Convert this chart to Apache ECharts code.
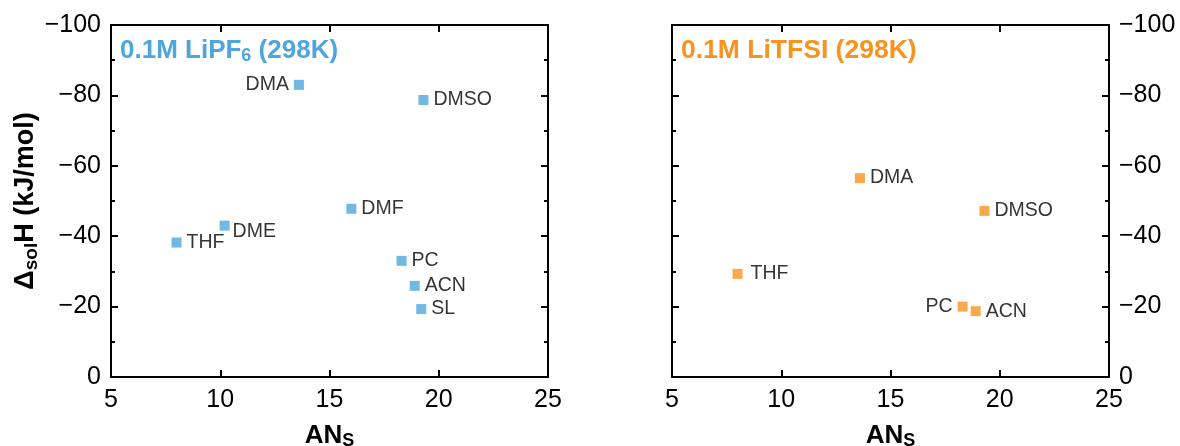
<!DOCTYPE html>
<html>
<head>
<meta charset="utf-8">
<script src="https://cdn.jsdelivr.net/npm/echarts@6/dist/echarts.min.js"></script>
<style>
html,body{margin:0;padding:0;background:#fff;}
#chart{width:1180px;height:446px;}
</style>
</head>
<body>
<div id="chart"></div>
<script>
// ---- data ----
const lipf6Names = ['DMA', 'DMSO', 'DMF', 'DME', 'THF', 'PC', 'ACN', 'SL'];
const lipf6AN    = [13.6, 19.3, 16.0, 10.2, 8.0, 18.3, 18.9, 19.2];
const lipf6H     = [-83.0, -78.7, -47.8, -43.0, -38.2, -33.0, -25.9, -19.3];

const litfsiNames = ['DMA', 'DMSO', 'THF', 'PC', 'ACN'];
const litfsiAN    = [13.6, 19.3, 8.0, 18.3, 18.9];
const litfsiH     = [-56.5, -47.2, -29.3, -20.0, -18.7];

const xTicks = [5, 10, 15, 20, 25];
const yTicks = [-100, -80, -60, -40, -20, 0];

// ---- style ----
const BLUE = '#4ea6dd';
const ORANGE = '#f7931e';
const FONT = '"Liberation Sans", Arial, Helvetica, sans-serif';
const lipf6LabelStyle = { DMA: { position: 'left' }, DME: { offset: [-2, 6] } };
const litfsiLabelStyle = { PC: { position: 'left' }, THF: { distance: 8 } };

const minus = v => (v < 0 ? '\u2212' + Math.abs(v) : String(v));

function buildData(names, xs, ys, styles) {
  return names.map((n, i) => {
    const s = styles[n] || {};
    const item = { value: [xs[i], ys[i]], name: n };
    item.label = Object.assign({}, s);
    return item;
  });
}

const GRID_TOP = 25, GRID_H = 352, GRID_W = 437;
const axisLine = { show: true, onZero: false, lineStyle: { color: '#000', width: 2 } };

function xAxes(gi) {
  return [
    {
      gridIndex: gi, type: 'value', min: xTicks[0], max: xTicks[xTicks.length - 1], interval: 5, position: 'bottom',
      axisLine: axisLine,
      axisTick: { show: true, inside: true, length: 7, lineStyle: { width: 2, color: '#000' } },
      axisLabel: { show: true, margin: 11, fontSize: 25, color: '#000', fontFamily: FONT },
      splitLine: { show: false },
      name: '{a|AN}{s|S}', nameLocation: 'middle', nameGap: 45,
      nameTextStyle: {
        rich: {
          a: { fontSize: 26, fontWeight: 'bold', color: '#000', fontFamily: FONT },
          s: { fontSize: 18, fontWeight: 'bold', color: '#000', fontFamily: FONT, padding: [10, 0, 0, 0] }
        }
      }
    },
    {
      gridIndex: gi, type: 'value', min: xTicks[0], max: xTicks[xTicks.length - 1], interval: 5, position: 'top',
      axisLine: axisLine,
      axisTick: { show: true, inside: true, length: 7, lineStyle: { width: 2, color: '#000' } },
      axisLabel: { show: false },
      splitLine: { show: false }
    }
  ];
}

function yAxes(gi, labelSide) {
  const base = {
    gridIndex: gi, type: 'value', min: yTicks[0], max: yTicks[yTicks.length - 1], interval: 20, inverse: true,
    axisLine: axisLine,
    axisTick: { show: true, inside: true, length: 7, lineStyle: { width: 2, color: '#000' } },
    minorTick: { show: true, splitNumber: 2, length: 4, lineStyle: { width: 2, color: '#000' } },
    splitLine: { show: false }, minorSplitLine: { show: false }
  };
  const labeled = Object.assign({}, base, {
    position: labelSide,
    axisLabel: { show: true, margin: 10, fontSize: 25, color: '#000', fontFamily: FONT, formatter: minus }
  });
  const plain = Object.assign({}, base, {
    position: labelSide === 'left' ? 'right' : 'left',
    axisLabel: { show: false }
  });
  if (labelSide === 'left') {
    labeled.name = '{d|\u0394}{s|sol}{d|H (kJ/mol)}';
    labeled.nameLocation = 'middle';
    labeled.nameGap = 70;
    labeled.nameTextStyle = {
      rich: {
        d: { fontSize: 27, fontWeight: 'bold', color: '#000', fontFamily: FONT },
        s: { fontSize: 19, fontWeight: 'bold', color: '#000', fontFamily: FONT, padding: [11, 0, 0, 0] }
      }
    };
  }
  return [labeled, plain];
}

function scatter(xi, yi, data, color) {
  return {
    type: 'scatter', xAxisIndex: xi, yAxisIndex: yi,
    symbol: 'rect', symbolSize: 10,
    itemStyle: { color: color },
    label: {
      show: true, position: 'right', distance: 5,
      formatter: p => p.name,
      fontSize: 19.5, color: '#000', fontFamily: FONT
    },
    data: data
  };
}

const chart = echarts.init(document.getElementById('chart'), null, { renderer: 'canvas' });
chart.setOption({
  backgroundColor: '#fff',
  animation: false,
  title: [
    {
      text: '0.1M LiPF{sub|6} (298K)', left: 120, top: 37, padding: 0,
      textStyle: {
        fontSize: 26, fontWeight: 'bold', color: BLUE, fontFamily: FONT,
        rich: { sub: { fontSize: 18, fontWeight: 'bold', color: BLUE, fontFamily: FONT, padding: [10, 0, 0, 0] } }
      }
    },
    {
      text: '0.1M LiTFSI (298K)', left: 681, top: 37, padding: 0,
      textStyle: { fontSize: 26.5, fontWeight: 'bold', color: ORANGE, fontFamily: FONT }
    }
  ],
  grid: [
    { left: 111, top: GRID_TOP, width: GRID_W, height: GRID_H, outerBoundsMode: 'none', containLabel: false },
    { left: 672, top: GRID_TOP, width: GRID_W, height: GRID_H, outerBoundsMode: 'none', containLabel: false }
  ],
  xAxis: [...xAxes(0), ...xAxes(1)],
  yAxis: [...yAxes(0, 'left'), ...yAxes(1, 'right')],
  series: [
    scatter(0, 0, buildData(lipf6Names, lipf6AN, lipf6H, lipf6LabelStyle), BLUE),
    scatter(2, 2, buildData(litfsiNames, litfsiAN, litfsiH, litfsiLabelStyle), ORANGE)
  ]
});
</script>
</body>
</html>
